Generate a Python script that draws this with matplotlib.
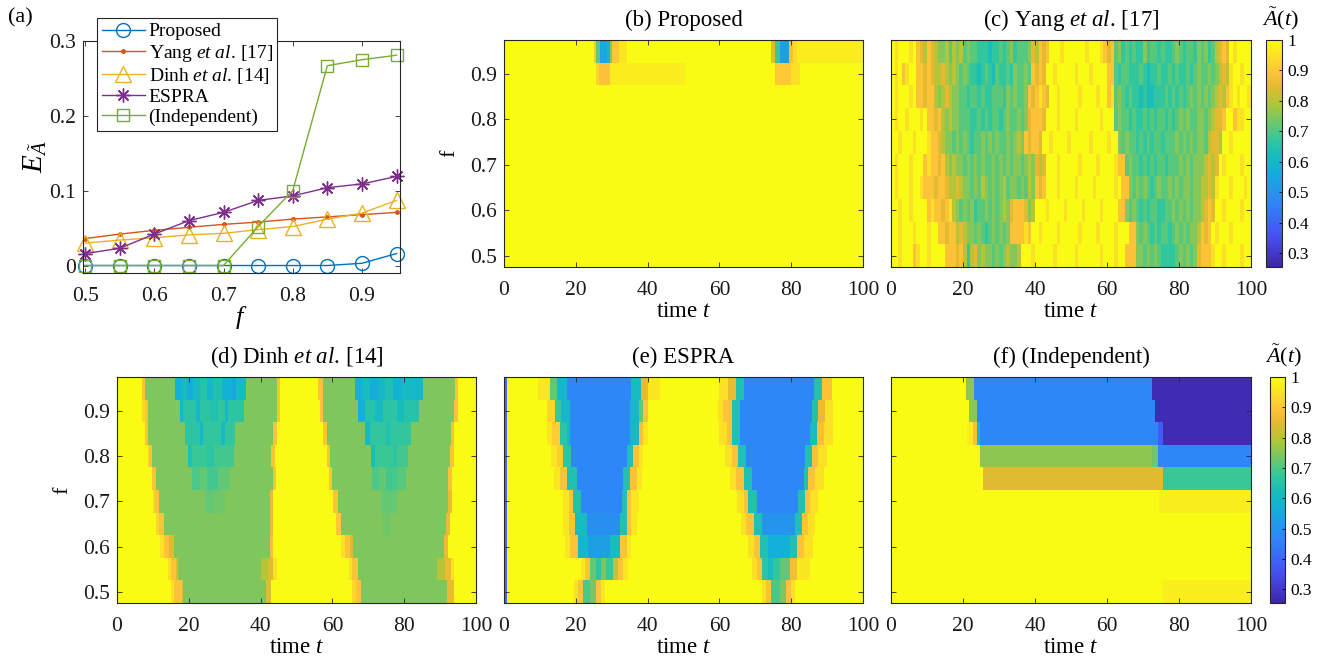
import numpy as np
import matplotlib
matplotlib.use('Agg')
import matplotlib.pyplot as plt
from matplotlib.colors import LinearSegmentedColormap

plt.rcParams['font.family'] = ['Liberation Serif', 'DejaVu Serif']
plt.rcParams['mathtext.fontset'] = 'custom'
plt.rcParams['mathtext.rm'] = 'Liberation Serif'
plt.rcParams['mathtext.it'] = 'Liberation Serif:italic'

# ---- data: panel (a) ----
f_vals = np.array([0.50, 0.55, 0.60, 0.65, 0.70, 0.75, 0.80, 0.85, 0.90, 0.95])
err_proposed = [0, 0, 0, 0, 0, 0, 0, 0, 0.003, 0.016]
err_yang = [0.036, 0.042, 0.047, 0.051, 0.055, 0.058, 0.062, 0.065, 0.068, 0.071]
err_dinh = [0.030, 0.034, 0.037, 0.041, 0.043, 0.048, 0.052, 0.062, 0.070, 0.087]
err_espra = [0.016, 0.023, 0.042, 0.060, 0.071, 0.087, 0.093, 0.104, 0.109, 0.119]
err_indep = [0, 0, 0, 0, 0, 0.052, 0.100, 0.267, 0.275, 0.281]

# ---- data: heat maps, rows listed from f=0.95 (top) down to f=0.50 ----
# each row: (time where a value starts, value of A~(t))
proposed_rows = [
    [(0, 1.0), (24.9, 0.9), (25.8, 0.72), (26.7, 0.55), (28.8, 0.6), (29.5, 0.75), (30, 0.9),
     (31.9, 0.96), (34.2, 1.0), (74.5, 0.85), (75.4, 0.68), (76.9, 0.53), (79.2, 0.88),
     (80.5, 0.94), (81.5, 0.97)],
    [(0, 1.0), (25.8, 0.92), (26.6, 0.89), (29.5, 0.97), (50.5, 1.0), (75.5, 0.9), (80, 0.95),
     (82.5, 1.0)],
    [(0, 1.0)], [(0, 1.0)], [(0, 1.0)], [(0, 1.0)], [(0, 1.0)], [(0, 1.0)], [(0, 1.0)], [(0, 1.0)],
]

# Yang et al.: one character per time unit, see yang_levels
yang_levels = {'9': 1.0, '8': 0.95, '7': 0.89, '6': 0.85, '5': 0.8, '4': 0.75,
               '3': 0.71, '2': 0.67, '1': 0.63}
yang_rows = [
    "9899989" "76576" "54453545" "3433222122323423334" "65767" "99989999998999" "8767"
    "3423232242332322343233243423" "5676" "989999",
    "9897899" "77676" "556545" "434322123213223243343" "7676" "99899999899989999" "77"
    "32332223212232232322323433434" "565" "899899",
    "98999897" "7677" "545654" "43323323223332434334" "767876" "9989999989999899" "78"
    "3432322121122232323234343434" "565" "7898998",
    "9899899989" "7767" "545443" "332232323323433434" "67776" "9998999989999998999"
    "343323223232332323434334434" "5667" "9978899",
    "99899989998" "776" "54434343233434343343454" "76776" "998999989999989999899"
    "4343323232332333434343443" "5665" "99899999",
    "989998999" "787767" "5454434343433434343443454" "656" "99989999989999899998" "77"
    "3433232323323334343444" "5656" "989999899",
    "98999899" "8777677" "65565" "44343543434534434354" "767" "999899998999989999989" "77"
    "43434323433434344344" "5565" "8999899989",
    "9989989999" "7877678" "5434342334343454" "67776" "45" "99989999899998999989999" "77"
    "434323233223343434344" "5676" "9989999899",
    "9989998999899" "77677" "5654" "43432343434" "777787" "998999989999989999899998999" "77"
    "43432323323434344" "5767" "98999899999",
    "998999789989999" "77767" "5256" "454434345445" "99989999989999989999998999899" "777"
    "44343432222343434" "6777" "89989999899",
]

G = 0.745  # plain green level of Dinh et al.
dinh_rows = [
    [(0, 1.0), (6.9, 0.89), (7.8, G), (16.2, 0.57), (18, 0.62), (19.6, 0.56), (21.3, 0.61),
     (23.1, 0.65), (25, 0.6), (26.8, 0.64), (29.2, 0.58), (31.9, 0.55), (33.3, 0.61), (36.1, G),
     (44.5, 0.89), (45.4, 1.0), (56, 0.89), (57.3, G), (66.3, 0.57), (68.6, 0.62), (70.5, 0.56),
     (72.8, 0.6), (74.7, 0.64), (77, 0.58), (79.3, 0.61), (81.6, 0.6), (85.3, G), (94.2, 0.89),
     (95, 1.0)],
    [(0, 1.0), (7, 0.93), (7.7, 0.89), (8.5, G), (17.4, 0.6), (18.5, 0.66), (22, 0.6), (23, 0.66),
     (26, 0.64), (28, 0.67), (30, 0.6), (31, 0.66), (35.5, G), (44.5, 0.89), (45.5, 1.0),
     (56.5, 0.89), (57.5, G), (67, 0.57), (69, 0.65), (72, 0.61), (74, 0.66), (78, 0.62),
     (80, 0.65), (84, G), (94, 0.89), (95, 1.0)],
    [(0, 1.0), (7.8, 0.89), (8.7, G), (19, 0.66), (23, 0.6), (24, 0.67), (29, 0.61), (30, 0.67),
     (33, G), (43.5, 0.89), (44.5, 1.0), (57.5, 0.89), (58.5, G), (69, 0.6), (70.5, 0.67),
     (75, 0.64), (76, 0.67), (82, G), (93, 0.89), (94, 1.0)],
    [(0, 1.0), (8.5, 0.93), (9, 0.89), (9.8, G), (19.8, 0.64), (21, 0.68), (25, 0.66), (27, 0.69),
     (32.5, G), (43, 0.89), (44, 1.0), (58.4, 0.89), (59.3, G), (70.8, 0.63), (72, 0.68),
     (77, 0.66), (78, 0.69), (81, G), (92.8, 0.89), (93.7, 1.0)],
    [(0, 1.0), (9.7, 0.89), (10.9, G), (21, 0.7), (23, 0.72), (25, 0.69), (28, 0.72), (31.5, G),
     (43.5, 0.89), (44.2, 1.0), (58.9, 0.89), (60, G), (71, 0.7), (73, 0.72), (75, 0.69),
     (78, 0.71), (80.5, G), (92.3, 0.89), (93.2, 1.0)],
    [(0, 1.0), (10, 0.93), (10.6, 0.89), (11.8, G), (24.5, 0.72), (27, 0.73), (30, G),
     (42.6, 0.86), (43.5, 1.0), (60.3, 0.89), (61.4, G), (73.5, 0.72), (78, G), (92.3, 0.86),
     (93.2, 1.0)],
    [(0, 1.0), (11, 0.93), (11.8, 0.89), (12.9, G), (42.6, 0.86), (43.5, 1.0), (61, 0.9),
     (62.6, G), (74, 0.73), (76, G), (91.8, 0.86), (92.8, 1.0)],
    [(0, 1.0), (12, 0.95), (13, 0.89), (14.5, 0.84), (15.7, G), (42.6, 0.88), (43.5, 1.0),
     (62.6, 0.95), (63.5, 0.89), (65, 0.84), (65.8, G), (91, 0.86), (92.3, 1.0)],
    [(0, 1.0), (14.3, 0.95), (15, 0.89), (16.5, 0.84), (17, G), (40, 0.8), (42, 0.84),
     (43.5, 0.95), (44.5, 1.0), (64.4, 0.95), (65.5, 0.89), (67.2, G), (89, 0.8), (91.4, 0.86),
     (93, 0.95), (94, 1.0)],
    [(0, 1.0), (15, 0.95), (16, 0.89), (18, 0.84), (18.5, G), (41.5, 0.84), (43, 1.0),
     (65.5, 0.93), (66.5, 0.89), (68, G), (92, 0.86), (94, 1.0)],
]

espra_rows = [
    [(0, 0.42), (0.7, 1.0), (9.6, 0.96), (12.8, 0.72), (14.7, 0.6), (17.5, 0.47), (35.6, 0.62),
     (38.3, 0.85), (40.2, 0.96), (43.5, 1.0), (60, 0.95), (62.5, 0.86), (64.8, 0.64),
     (66.7, 0.47), (86.2, 0.64), (88.5, 0.89), (91.3, 1.0)],
    [(0, 0.42), (0.7, 1.0), (11.9, 0.93), (14.2, 0.68), (16, 0.6), (18.4, 0.47), (35, 0.6),
     (37.4, 0.72), (38.8, 0.89), (40.2, 1.0), (59.5, 0.95), (61, 0.89), (63.4, 0.64),
     (65.7, 0.47), (85.7, 0.64), (87.6, 0.86), (89.4, 0.95), (91.7, 1.0)],
    [(0, 0.42), (0.7, 1.0), (12, 0.96), (13.3, 0.91), (15.6, 0.66), (17.5, 0.6), (18.5, 0.47),
     (35, 0.6), (37.4, 0.88), (38.8, 0.96), (40, 1.0), (60, 0.95), (62, 0.89), (63.5, 0.64),
     (65.7, 0.47), (85.3, 0.62), (87.2, 0.88), (88.9, 0.95), (91.7, 1.0)],
    [(0, 0.42), (0.7, 1.0), (13, 0.96), (14.7, 0.91), (16.5, 0.66), (18.8, 0.47), (34.2, 0.64),
     (36, 0.89), (37.4, 0.96), (38.8, 1.0), (61.5, 0.95), (63.4, 0.89), (65.3, 0.64),
     (67.6, 0.47), (83.8, 0.64), (85.7, 0.88), (87.6, 0.95), (89.9, 1.0)],
    [(0, 0.42), (0.7, 1.0), (14, 0.96), (15.6, 0.89), (17.5, 0.64), (20.2, 0.47), (33.2, 0.64),
     (35, 0.89), (37, 0.96), (38.4, 1.0), (63, 0.95), (64.8, 0.89), (66.7, 0.64), (69, 0.47),
     (83.4, 0.64), (84.8, 0.89), (86.6, 0.95), (88.9, 1.0)],
    [(0, 0.42), (0.7, 1.0), (16.5, 0.96), (17.9, 0.89), (19.3, 0.64), (21.6, 0.47), (32.8, 0.64),
     (34.2, 0.89), (35.6, 0.96), (37.4, 1.0), (65, 0.95), (66.7, 0.89), (68, 0.64), (70.4, 0.47),
     (82, 0.64), (83.8, 0.89), (85.2, 0.95), (87.6, 1.0)],
    [(0, 0.42), (0.7, 1.0), (16.5, 0.96), (17.9, 0.89), (19.8, 0.62), (23, 0.49), (32.3, 0.64),
     (34.2, 0.89), (35.6, 0.96), (37, 1.0), (66, 0.95), (67.6, 0.89), (69.5, 0.64), (71.8, 0.5),
     (81, 0.64), (82.9, 0.89), (84.8, 0.95), (86.6, 1.0)],
    [(0, 0.42), (0.7, 1.0), (17, 0.96), (18.4, 0.89), (20.7, 0.6), (23.5, 0.53), (29.5, 0.62),
     (32.3, 0.89), (34.2, 0.96), (35.6, 1.0), (68, 0.95), (69.5, 0.89), (71.3, 0.64),
     (73.6, 0.57), (79.7, 0.64), (81.5, 0.89), (83.4, 0.95), (86, 1.0)],
    [(0, 0.42), (0.7, 1.0), (21.5, 0.96), (22.6, 0.89), (24, 0.72), (25.5, 0.66), (27, 0.74),
     (28.5, 0.68), (30.5, 0.82), (31.8, 0.89), (33.2, 0.96), (34.5, 1.0), (69, 0.95),
     (70.4, 0.89), (71.8, 0.66), (73.5, 0.62), (75, 0.67), (76.9, 0.72), (79.7, 0.87),
     (81.5, 0.96), (85.2, 1.0)],
    [(0, 0.42), (0.7, 1.0), (19.5, 0.95), (20.5, 0.89), (22, 0.7), (24, 0.74), (25.5, 0.89),
     (27, 0.96), (28, 1.0), (72, 0.95), (73, 0.89), (74.5, 0.7), (77, 0.74), (78.5, 0.89),
     (80, 0.95), (81, 1.0)],
]

indep_rows = [
    [(0, 1.0), (20.8, 0.76), (22.9, 0.47), (72.4, 0.27)],
    [(0, 1.0), (21.8, 0.76), (24, 0.47), (73.3, 0.27)],
    [(0, 1.0), (21, 0.97), (22.7, 0.88), (24, 0.6), (24.7, 0.47), (74.3, 0.38), (75.5, 0.27)],
    [(0, 1.0), (24.7, 0.76), (72.4, 0.73), (74.3, 0.47)],
    [(0, 1.0), (25.6, 0.845), (75.5, 0.68)],
    [(0, 1.0), (74.5, 0.975)],
    [(0, 1.0)],
    [(0, 1.0)],
    [(0, 1.0)],
    [(0, 1.0), (75.5, 0.975)],
]

cbar_ticks = [0.3, 0.4, 0.5, 0.6, 0.7, 0.8, 0.9, 1.0]
cbar_labels = ['0.3', '0.4', '0.5', '0.6', '0.7', '0.8', '0.9', '1']

# ---- parula-like colormap ----
parula = LinearSegmentedColormap.from_list('parula', [
    (0.000, (0.2422, 0.1504, 0.6603)),
    (0.143, (0.2810, 0.3228, 0.9579)),
    (0.286, (0.1786, 0.5289, 0.9682)),
    (0.429, (0.0689, 0.6948, 0.8394)),
    (0.500, (0.1000, 0.7450, 0.7200)),
    (0.571, (0.2161, 0.7843, 0.5923)),
    (0.714, (0.6720, 0.7793, 0.2227)),
    (0.800, (0.9000, 0.7300, 0.1900)),
    (0.857, (0.9970, 0.7659, 0.2199)),
    (1.000, (0.9769, 0.9839, 0.0805)),
])
VMIN, VMAX = 0.255, 1.0
N_T = 400
t_centers = (np.arange(N_T) + 0.5) * 100.0 / N_T
t_edges = np.linspace(0, 100, N_T + 1)
f_edges = np.append(f_vals - 0.025, f_vals[-1] + 0.025)


def steps_to_row(steps):
    row = np.empty(N_T)
    for t0, v in steps:
        row[t_centers >= t0] = v
    return row


def string_to_row(s):
    idx = np.minimum((t_centers / 100.0 * len(s)).astype(int), len(s) - 1)
    return np.array([yang_levels[s[i]] for i in idx])


def build(rows, conv):
    # rows are listed top-down, the mesh wants f increasing
    return np.array([conv(r) for r in rows[::-1]])


W, H = 1322, 660
fig = plt.figure(figsize=(W / 100, H / 100), dpi=100)


def px_rect(l, t, r, b):
    return [l / W, 1 - b / H, (r - l) / W, (b - t) / H]


def style_axes(ax):
    for s in ax.spines.values():
        s.set_linewidth(0.8)
        s.set_color('0.15')
    ax.tick_params(direction='in', top=True, right=True, length=3.5, width=0.6,
                   labelsize=15.5, colors='0.15', labelcolor='0.1')
    ax.tick_params(axis='x', pad=10)
    ax.tick_params(axis='y', pad=5)


# ---- panel (a) ----
ax = fig.add_axes(px_rect(83, 41, 400, 273))
ax.plot(f_vals, err_proposed, '-o', color=(0, 0.447, 0.741), lw=1.0, ms=10, mfc='none',
        mew=1.0, clip_on=False, label='Proposed')
ax.plot(f_vals, err_yang, '.-', color=(0.85, 0.325, 0.098), lw=1.0, ms=5, clip_on=False,
        label=r'Yang $\mathit{et\ al.}\,$[17]')
ax.plot(f_vals, err_dinh, '-^', color=(0.929, 0.694, 0.125), lw=1.0, ms=11, mfc='none',
        mew=1.0, clip_on=False, label=r'Dinh $\mathit{et\ al.}\,$[14]')
ax.plot(f_vals, err_espra, '-', marker=(8, 2, 0), color=(0.494, 0.184, 0.556), lw=1.0, ms=10,
        mew=1.0, clip_on=False, label='ESPRA')
ax.plot(f_vals, err_indep, '-s', color=(0.466, 0.674, 0.188), lw=1.0, ms=8, mfc='none',
        mew=1.0, clip_on=False, label='(Independent)')
ax.set_xlim(0.497, 0.955)
ax.set_ylim(-0.01, 0.3)
ax.set_xticks([0.5, 0.6, 0.7, 0.8, 0.9])
ax.set_xticklabels(['0.5', '0.6', '0.7', '0.8', '0.9'])
ax.set_yticks([0, 0.1, 0.2, 0.3])
ax.set_yticklabels(['0', '0.1', '0.2', '0.3'])
style_axes(ax)
ax.set_xlabel(r'$f$', fontsize=19, labelpad=-1)
ax.set_ylabel(r'$E_{\tilde{A}}$', fontsize=21, labelpad=0)
leg = ax.legend(loc='upper left', bbox_to_anchor=(97 / W, 1 - 18 / H),
                bbox_transform=fig.transFigure, fontsize=14, frameon=True, fancybox=False,
                edgecolor='0.15', framealpha=1, handlelength=2.2, labelspacing=0.12,
                borderpad=0.25, handletextpad=0.2, borderaxespad=0)
leg.get_frame().set_linewidth(0.8)
fig.text(8 / W, 1 - 8 / H, '(a)', fontsize=16, va='top', ha='left')

# ---- heat maps ----
maps = [
    ('(b) Proposed', build(proposed_rows, steps_to_row), (504, 40, 863, 267), True, None),
    (r'(c) Yang $\mathit{et\ al.}\,$[17]', build(yang_rows, string_to_row),
     (891, 40, 1251, 267), False, (1266, 40, 1282, 267)),
    (r'(d) Dinh $\mathit{et\ al.}\,$[14]', build(dinh_rows, steps_to_row),
     (117, 377, 476, 603), True, None),
    ('(e) ESPRA', build(espra_rows, steps_to_row), (504, 377, 863, 603), False, None),
    ('(f) (Independent)', build(indep_rows, steps_to_row), (891, 377, 1251, 603), False,
     (1270, 377, 1285, 603)),
]

for title, Z, rect, show_y, cbar_rect in maps:
    ax = fig.add_axes(px_rect(*rect))
    mesh = ax.pcolormesh(t_edges, f_edges, Z, cmap=parula, vmin=VMIN, vmax=VMAX,
                         shading='flat', edgecolors='none', antialiased=False)
    ax.set_xlim(0, 100)
    ax.set_ylim(f_edges[0], f_edges[-1])
    ax.set_xticks([0, 20, 40, 60, 80, 100])
    ax.set_yticks([0.5, 0.6, 0.7, 0.8, 0.9])
    ax.set_yticklabels(['0.5', '0.6', '0.7', '0.8', '0.9'])
    style_axes(ax)
    ax.set_title(title, fontsize=16.5, pad=10)
    ax.set_xlabel(r'time $t$', fontsize=16.5, labelpad=1)
    if show_y:
        ax.set_ylabel('f', fontsize=16, labelpad=8)
    else:
        ax.tick_params(labelleft=False)
    if cbar_rect is not None:
        cax = fig.add_axes(px_rect(*cbar_rect))
        cb = fig.colorbar(mesh, cax=cax, ticks=cbar_ticks)
        cb.ax.set_yticklabels(cbar_labels)
        cb.outline.set_linewidth(0.8)
        cb.outline.set_edgecolor('0.15')
        cax.tick_params(direction='in', length=2.5, width=0.6, labelsize=12.5, pad=4)
        l, t, r, b = cbar_rect
        fig.text((l + r) / 2 / W + 6 / W, 1 - (t - 21) / H, r'$\tilde{A}(t)$', fontsize=16,
                 ha='center', va='center')

fig.savefig('out.png', dpi=100)
